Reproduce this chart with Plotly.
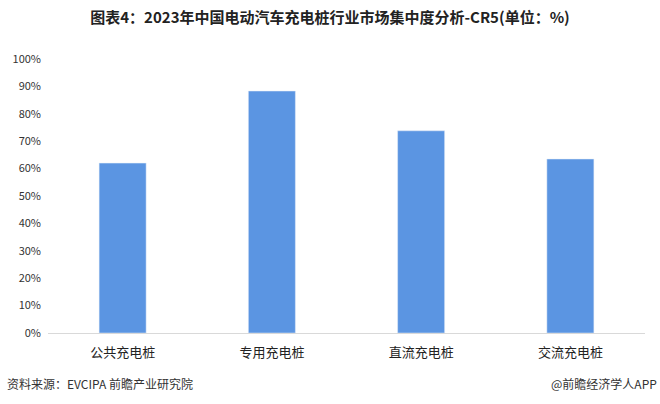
import plotly.graph_objects as go

categories = ["公共充电桩", "专用充电桩", "直流充电桩", "交流充电桩"]
values = [62.0, 88.3, 73.8, 63.5]
tick_vals = [0, 10, 20, 30, 40, 50, 60, 70, 80, 90, 100]
tick_text = [f"{v}%" for v in tick_vals]

fig = go.Figure()
fig.add_trace(go.Bar(x=categories, y=values, marker_color="#5B95E2", width=0.315))

fig.update_layout(
    width=660, height=404,
    margin=dict(l=48, r=15, t=59, b=71),
    paper_bgcolor="white", plot_bgcolor="white",
    showlegend=False,
    font=dict(family="Noto Sans CJK SC", color="#333333"),
    title=dict(text="<b>图表4：2023年中国电动汽车充电桩行业市场集中度分析-CR5(单位：%)</b>",
               x=0.5, xanchor="center", y=1 - 18/404, yanchor="middle",
               font=dict(size=15, color="#222222", family="Noto Sans CJK SC")),
)
fig.update_yaxes(range=[0, 100], tickvals=tick_vals, ticktext=tick_text, showgrid=False,
                 zeroline=False, showline=False, tickfont=dict(size=11, color="#333333"),
                 ticks="", ticklabelstandoff=6)
fig.update_xaxes(showline=True, linecolor="#D9D9D9", linewidth=1, ticks="",
                 tickfont=dict(size=13, color="#222222"), ticklabelstandoff=7)

fig.add_annotation(text="资料来源：EVCIPA 前瞻产业研究院", xref="paper", yref="paper",
                   x=-43/597, y=-50/274, xanchor="left", yanchor="middle", showarrow=False,
                   font=dict(size=12, color="#333333"))
fig.add_annotation(text="@前瞻经济学人APP", xref="paper", yref="paper",
                   x=1 + 14/597, y=-50/274, xanchor="right", yanchor="middle", showarrow=False,
                   font=dict(size=12, color="#333333"))

fig.write_html("out.html", config={"displayModeBar": False},
               post_script="document.body.style.margin='0';document.body.style.overflow='hidden';")
